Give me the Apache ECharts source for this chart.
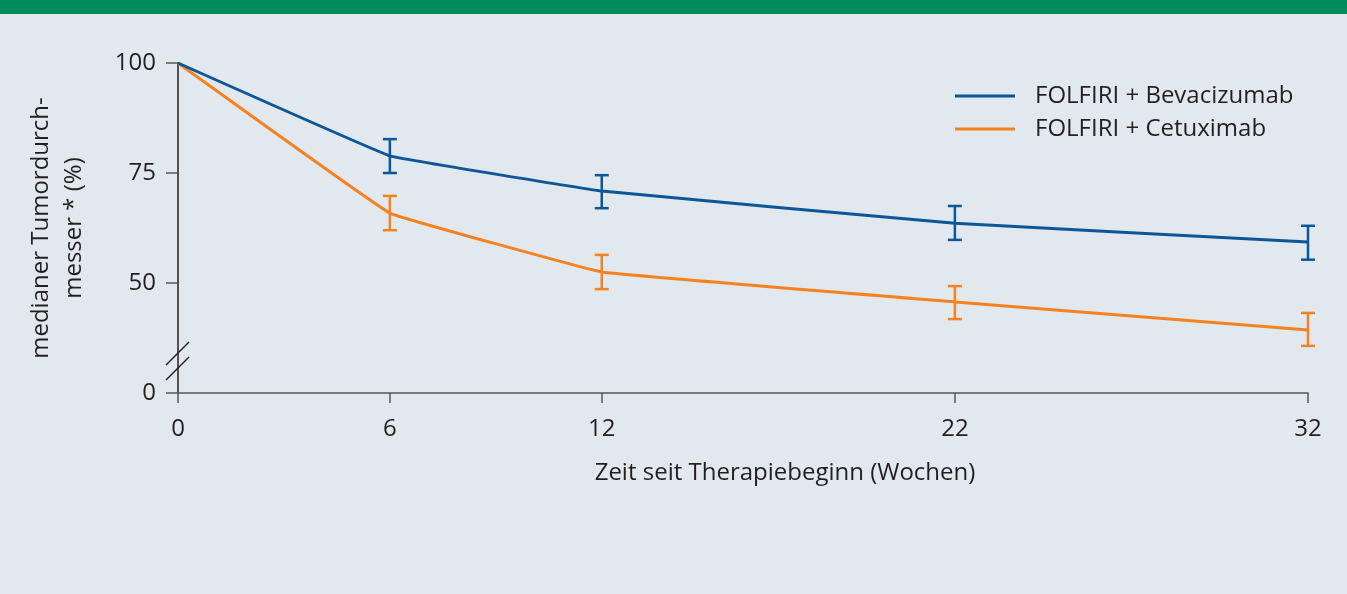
<!DOCTYPE html>
<html>
<head>
<meta charset="utf-8">
<script src="https://cdn.jsdelivr.net/npm/echarts@6/dist/echarts.min.js"></script>
<style>
html,body{margin:0;padding:0;background:#e1e8ee;}
#c{width:1347px;height:594px;}
</style>
</head>
<body>
<div id="c"></div>
<script>
// Data
var weeks = [0, 6, 12, 22, 32];
var bevaName = 'FOLFIRI + Bevacizumab';
var cetuName = 'FOLFIRI + Cetuximab';
var bevaValues = [100, 78.9, 70.9, 63.6, 59.3];
var bevaLow = [null, 75.0, 67.0, 59.8, 55.3];
var bevaHigh = [null, 82.7, 74.5, 67.5, 63.0];
var cetuValues = [100, 65.9, 52.5, 45.7, 39.3];
var cetuLow = [null, 62.0, 48.6, 41.8, 35.7];
var cetuHigh = [null, 69.8, 56.4, 49.3, 43.2];
var yTickValues = [25, 50, 75, 100];
var yTickLabels = {25: '0', 50: '50', 75: '75', 100: '100'};

var BLUE = '#0b5797';
var ORANGE = '#f5821f';
var FONT = 'Open Sans';
var TXT = '#231f20';

function pairs(vals) {
  return weeks.map(function (w, i) { return [w, vals[i]]; });
}
function errData(lo, hi) {
  var out = [];
  weeks.forEach(function (w, i) {
    if (lo[i] != null) out.push([w, lo[i], hi[i]]);
  });
  return out;
}
function errSeries(name, lo, hi, color) {
  return {
    type: 'custom',
    name: name + ' err',
    data: errData(lo, hi),
    silent: true,
    z: 5,
    renderItem: function (params, api) {
      var x = api.value(0);
      var p1 = api.coord([x, api.value(1)]);
      var p2 = api.coord([x, api.value(2)]);
      var hw = 7;
      var st = { stroke: color, lineWidth: 2.5, fill: null };
      return {
        type: 'group',
        children: [
          { type: 'line', shape: { x1: p1[0], y1: p1[1], x2: p2[0], y2: p2[1] }, style: st },
          { type: 'line', shape: { x1: p1[0] - hw, y1: p1[1], x2: p1[0] + hw, y2: p1[1] }, style: st },
          { type: 'line', shape: { x1: p2[0] - hw, y1: p2[1], x2: p2[0] + hw, y2: p2[1] }, style: st }
        ]
      };
    }
  };
}

var chart = echarts.init(document.getElementById('c'), null, { renderer: 'canvas' });
chart.setOption({
  backgroundColor: '#e1e8ee',
  animation: false,
  textStyle: { fontFamily: FONT },
  grid: { left: 178, right: 39, top: 63, bottom: 201, containLabel: false },
  legend: {
    left: 950,
    top: 79,
    orient: 'vertical',
    icon: 'rect',
    itemWidth: 60,
    itemHeight: 3,
    itemGap: 9,
    data: [bevaName, cetuName],
    textStyle: { fontFamily: FONT, fontSize: 24, color: TXT, padding: [0, 0, 0, 15], lineHeight: 24 }
  },
  xAxis: {
    type: 'value',
    min: 0,
    max: 32,
    name: 'Zeit seit Therapiebeginn (Wochen)',
    nameLocation: 'middle',
    nameGap: 68,
    nameTextStyle: { fontFamily: FONT, fontSize: 24, color: TXT, padding: [0, 0, 0, 84] },
    axisLine: { show: true, lineStyle: { color: '#555555', width: 1.5 } },
    axisTick: { show: true, length: 10, inside: false, customValues: weeks, lineStyle: { color: '#555555', width: 1.5 } },
    axisLabel: { customValues: weeks, fontFamily: FONT, fontSize: 24, color: TXT, margin: 24 },
    splitLine: { show: false }
  },
  yAxis: {
    type: 'value',
    min: 25,
    max: 100,
    interval: 25,
    name: 'medianer Tumordurch-\nmesser * (%)',
    nameLocation: 'middle',
    nameRotate: 90,
    nameGap: 87,
    nameTextStyle: { fontFamily: FONT, fontSize: 24, color: TXT, lineHeight: 33, align: 'center' },
    axisLine: { show: true, lineStyle: { color: TXT, width: 1.5 } },
    axisTick: { show: true, length: 12, lineStyle: { color: '#555555', width: 1.5 } },
    axisLabel: {
      fontFamily: FONT, fontSize: 24, color: TXT, margin: 22,
      customValues: yTickValues,
      formatter: function (v) { return yTickLabels[v]; }
    },
    splitLine: { show: false }
  },
  graphic: [
    { type: 'rect', left: 0, top: 0, shape: { width: 1347, height: 14 }, style: { fill: '#008c5c' }, z: 10 },
    { type: 'line', shape: { x1: 166, y1: 365, x2: 189, y2: 342 }, style: { stroke: TXT, lineWidth: 1.5 }, z: 10 },
    { type: 'line', shape: { x1: 166, y1: 380, x2: 189, y2: 357 }, style: { stroke: TXT, lineWidth: 1.5 }, z: 10 }
  ],
  series: [
    {
      type: 'line', name: bevaName, data: pairs(bevaValues), smooth: 0.05,
      symbol: 'none', lineStyle: { color: BLUE, width: 3 }, itemStyle: { color: BLUE }, z: 4
    },
    {
      type: 'line', name: cetuName, data: pairs(cetuValues), smooth: 0.05,
      symbol: 'none', lineStyle: { color: ORANGE, width: 3 }, itemStyle: { color: ORANGE }, z: 3
    },
    errSeries(bevaName, bevaLow, bevaHigh, BLUE),
    errSeries(cetuName, cetuLow, cetuHigh, ORANGE)
  ]
});
</script>
</body>
</html>
